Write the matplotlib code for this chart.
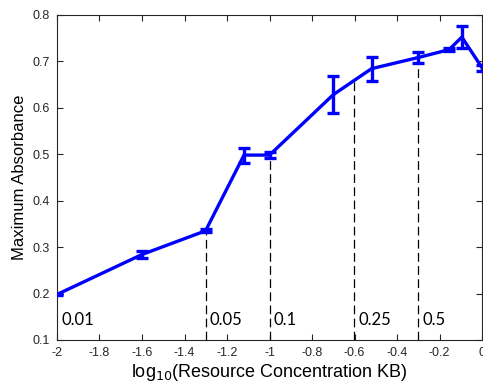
import numpy as np
import matplotlib
matplotlib.use('Agg')
import matplotlib.pyplot as plt

# data
log_conc = [-2.0, -1.6, -1.301, -1.12, -1.0, -0.7, -0.52, -0.3, -0.155, -0.095, 0.0]
absorb = [0.198, 0.284, 0.335, 0.498, 0.498, 0.628, 0.684, 0.708, 0.725, 0.752, 0.686]
err = [0.002, 0.008, 0.003, 0.016, 0.006, 0.040, 0.026, 0.012, 0.003, 0.023, 0.006]

marker_conc = [0.01, 0.05, 0.1, 0.25, 0.5]
marker_text = ['0.01', '0.05', '0.1', '0.25', '0.5']

plt.rcParams['font.family'] = ['Liberation Sans', 'DejaVu Sans']

fig = plt.figure(figsize=(4.83, 3.89), dpi=100)
ax = fig.add_axes([0.118, 0.126, 0.880, 0.836])

ax.errorbar(log_conc, absorb, yerr=err, color='#0000ff', lw=2.4,
            elinewidth=2.4, capsize=4.5, capthick=2.4, zorder=3)

# dashed markers up to the curve
for c, t in zip(marker_conc, marker_text):
    lx = np.log10(c)
    top = np.interp(lx, log_conc, absorb)
    if c != 0.01:
        ax.plot([lx, lx], [0.1, top], color='black', lw=0.9, ls=(0, (7, 3.5)), zorder=2)
    ax.text(lx + 0.02, 0.143, t, fontsize=12, family=['Lato', 'DejaVu Sans'],
            va='center', ha='left', color='black')

ax.set_xlim(-2, 0)
ax.set_ylim(0.1, 0.8)
ax.set_xticks(np.arange(-2, 0.01, 0.2))
ax.set_xticklabels(['-2', '-1.8', '-1.6', '-1.4', '-1.2', '-1', '-0.8', '-0.6',
                    '-0.4', '-0.2', '0'])
ax.set_yticks(np.arange(0.1, 0.81, 0.1))
ax.set_yticklabels(['0.1', '0.2', '0.3', '0.4', '0.5', '0.6', '0.7', '0.8'])
ax.tick_params(direction='in', top=True, right=True, length=4, width=0.8,
               labelsize=9, colors='#262626', pad=5)
for s in ax.spines.values():
    s.set_color('#262626')
    s.set_linewidth(0.8)

ax.set_xlabel('log$_{10}$(Resource Concentration KB)', fontsize=13, labelpad=2)
ax.set_ylabel('Maximum Absorbance', fontsize=12, labelpad=4)

fig.savefig('out.png', dpi=100)
